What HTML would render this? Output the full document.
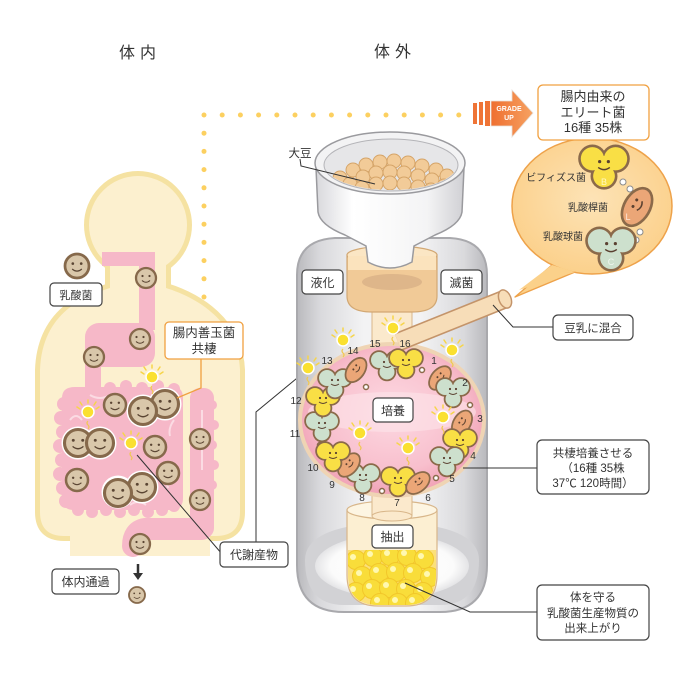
<!DOCTYPE html>
<html><head><meta charset="utf-8">
<style>
html,body{margin:0;padding:0;background:#fff;}
svg{display:block;}
text{font-family:"Liberation Sans","Noto Sans CJK JP",sans-serif;fill:#333;}
</style></head><body>
<svg width="700" height="700" viewBox="0 0 700 700" xmlns="http://www.w3.org/2000/svg">
<defs>
 <linearGradient id="bottle" x1="0" x2="1" y1="0" y2="0">
  <stop offset="0" stop-color="#b9b9bd"/>
  <stop offset="0.12" stop-color="#d9d9dc"/>
  <stop offset="0.35" stop-color="#f3f3f4"/>
  <stop offset="0.65" stop-color="#f3f3f4"/>
  <stop offset="0.88" stop-color="#d9d9dc"/>
  <stop offset="1" stop-color="#b9b9bd"/>
 </linearGradient>
 <linearGradient id="funnel" x1="0" x2="1" y1="0" y2="0">
  <stop offset="0" stop-color="#d8d8dc"/>
  <stop offset="0.25" stop-color="#ffffff"/>
  <stop offset="0.75" stop-color="#f4f4f5"/>
  <stop offset="1" stop-color="#d0d0d4"/>
 </linearGradient>
 <radialGradient id="pink" cx="0.5" cy="0.45" r="0.55">
  <stop offset="0" stop-color="#fdd9e2"/>
  <stop offset="0.7" stop-color="#f8bfcd"/>
  <stop offset="1" stop-color="#f0a1b5"/>
 </radialGradient>
 <radialGradient id="bub" cx="0.5" cy="0.45" r="0.6">
  <stop offset="0" stop-color="#fde3b6"/>
  <stop offset="1" stop-color="#fbcf88"/>
 </radialGradient>
 <radialGradient id="floor" cx="0.5" cy="0.5" r="0.5">
  <stop offset="0" stop-color="#ffffff"/>
  <stop offset="0.8" stop-color="#fbfbfb"/>
  <stop offset="1" stop-color="#e4e4e6"/>
 </radialGradient>
 <linearGradient id="arrow" x1="0" x2="1" y1="0" y2="0">
  <stop offset="0" stop-color="#ef6f30"/>
  <stop offset="1" stop-color="#f6a262"/>
 </linearGradient>
 <g id="face">
  <circle r="10" fill="#d9c7aa" stroke="#86694b" stroke-width="2.3"/>
  <circle cx="-3.5" cy="-2" r="1.1" fill="#5a4533"/>
  <circle cx="3.5" cy="-2" r="1.1" fill="#5a4533"/>
  <path d="M-4,2.5 Q0,6 4,2.5" fill="none" stroke="#5a4533" stroke-width="1"/>
 </g>
 <g id="tref">
  <g fill="#8b6a4a">
   <circle cx="-8" cy="-5" r="9.8"/><circle cx="8" cy="-5" r="9.8"/><circle cx="0" cy="7" r="9.3"/>
  </g>
  <circle cx="-8" cy="-5" r="8"/><circle cx="8" cy="-5" r="8"/><circle cx="0" cy="7" r="7.5"/><circle cx="0" cy="0" r="7"/>
  <circle cx="-3" cy="-3" r="1.1" fill="#5a4030"/><circle cx="3" cy="-3" r="1.1" fill="#5a4030"/>
  <path d="M-4,1 Q0,4 4,1" fill="none" stroke="#5a4030" stroke-width="1"/>
 </g>
 <g id="bean">
  <ellipse rx="14.5" ry="9.5" fill="#8b6a4a"/>
  <ellipse rx="12.7" ry="7.7"/>
  <circle cx="-1" cy="-2.5" r="1" fill="#5a4030"/><circle cx="4" cy="-2.5" r="1" fill="#5a4030"/>
  <path d="M-2,1 Q1.5,3.5 5,1" fill="none" stroke="#5a4030" stroke-width="1"/>
 </g>
 <g id="bulb">
  <g stroke="#f6d54a" stroke-width="1.5" stroke-linecap="round">
   <line x1="-8" y1="-3" x2="-11" y2="-5"/><line x1="-6" y1="-7" x2="-8" y2="-10"/>
   <line x1="0" y1="-9" x2="0" y2="-12"/><line x1="6" y1="-7" x2="8" y2="-10"/>
   <line x1="8" y1="-3" x2="11" y2="-5"/>
  </g>
  <circle r="6" fill="#fae030" stroke="#fff" stroke-width="1.5"/>
  <path d="M0,9 q-2,2 0,4 q2,2 0,4" stroke="#f0c850" fill="none" stroke-width="1.2"/>
 </g>
 <g id="ball">
  <circle r="9.5" fill="#f9dd3a" stroke="#f2c72a" stroke-width="1"/>
  <circle cx="-3" cy="-3" r="3" fill="#fff8b0"/>
 </g>
</defs>

<!-- headers -->
<text x="140" y="58" font-size="16" text-anchor="middle" letter-spacing="5">体内</text>
<text x="395" y="57" font-size="16" text-anchor="middle" letter-spacing="5">体外</text>

<!-- dotted line -->
<g fill="#fcd060">
 <circle cx="204" cy="115" r="2.5"/><circle cx="222.2" cy="115" r="2.5"/><circle cx="240.4" cy="115" r="2.5"/><circle cx="258.6" cy="115" r="2.5"/><circle cx="276.8" cy="115" r="2.5"/><circle cx="295" cy="115" r="2.5"/><circle cx="313.2" cy="115" r="2.5"/><circle cx="331.4" cy="115" r="2.5"/><circle cx="349.6" cy="115" r="2.5"/><circle cx="367.8" cy="115" r="2.5"/><circle cx="386" cy="115" r="2.5"/><circle cx="404.2" cy="115" r="2.5"/><circle cx="422.4" cy="115" r="2.5"/><circle cx="440.6" cy="115" r="2.5"/><circle cx="458.8" cy="115" r="2.5"/>
 <circle cx="204" cy="133.2" r="2.5"/><circle cx="204" cy="151.4" r="2.5"/><circle cx="204" cy="169.6" r="2.5"/><circle cx="204" cy="187.8" r="2.5"/><circle cx="204" cy="206" r="2.5"/><circle cx="204" cy="224.2" r="2.5"/><circle cx="204" cy="242.4" r="2.5"/><circle cx="204" cy="260.6" r="2.5"/><circle cx="204" cy="278.8" r="2.5"/><circle cx="204" cy="297" r="2.5"/><circle cx="204" cy="315.2" r="2.5"/>
</g>

<!-- BODY -->
<g fill="#f5e2a2" stroke="#f5e2a2" stroke-width="10">
 <circle cx="138" cy="225" r="49"/>
 <rect x="110" y="240" width="56" height="52"/>
 <path d="M110,288 C85,296 42,312 40,370 L40,512 Q40,536 64,536 L216,536 Q240,536 240,512 L240,370 C238,322 198,298 166,288 Z"/>
</g>
<g fill="#fcf0cf">
 <circle cx="138" cy="225" r="49"/>
 <rect x="110" y="240" width="56" height="52"/>
 <path d="M110,288 C85,296 42,312 40,370 L40,512 Q40,536 64,536 L216,536 Q240,536 240,512 L240,370 C238,322 198,298 166,288 Z"/>
 <rect x="70" y="500" width="140" height="56"/>
</g>
<!-- digestive tract -->
<g fill="#f6b8c8" stroke="none">
 <path d="M102,252 L155,252 L155,330 L139,330 L139,266 L102,266 Z"/>
 <rect x="85" y="323" width="70" height="44" rx="14"/>
 <rect x="85" y="340" width="16" height="60"/>
 <path d="M62,398 Q62,387 75,387 L173,387 Q183,387 183,398 L183,498 Q183,510 171,510 L74,510 Q62,510 62,498 Z"/>
 <circle cx="64" cy="404" r="7"/><circle cx="61" cy="418" r="7"/><circle cx="63" cy="432" r="7"/><circle cx="60" cy="446" r="7"/><circle cx="62" cy="460" r="7"/><circle cx="60" cy="474" r="7"/><circle cx="63" cy="488" r="7"/><circle cx="66" cy="501" r="7"/>
 <circle cx="78" cy="510" r="6"/><circle cx="92" cy="512" r="6"/><circle cx="106" cy="510" r="6"/><circle cx="120" cy="512" r="6"/><circle cx="134" cy="510" r="6"/><circle cx="148" cy="512" r="6"/><circle cx="162" cy="510" r="6"/><circle cx="174" cy="506" r="6"/>
 <circle cx="110" cy="388" r="6"/><circle cx="126" cy="386" r="6"/><circle cx="142" cy="388" r="6"/><circle cx="158" cy="386" r="6"/><circle cx="174" cy="389" r="6"/>
 <rect x="190" y="388" width="24" height="150" rx="10"/>
 <circle cx="212" cy="405" r="5"/><circle cx="214" cy="425" r="5"/><circle cx="212" cy="445" r="5"/><circle cx="214" cy="465" r="5"/><circle cx="212" cy="485" r="5"/>
</g>
<path d="M202,529 L145,529 Q133,531 133,546" fill="none" stroke="#f6b8c8" stroke-width="22" stroke-linecap="round"/>
<g fill="none" stroke="#fbe0e7" stroke-width="2" opacity="0.85">
 <path d="M70,420 q6,-8 12,0 M174,420 q-6,8 -4,16 M72,470 q8,4 6,14 M172,470 q-8,6 -4,18 M202,410 l0,20 M202,450 l0,20 M90,395 q10,6 20,0 M130,505 q8,-6 16,0"/>
</g>

<!-- faces in body -->
<use href="#face" transform="translate(77,266) scale(1.2)"/>
<use href="#face" transform="translate(146,278)"/>
<use href="#face" transform="translate(140,339)"/>
<use href="#face" transform="translate(94,357)"/>
<use href="#face" transform="translate(115,405) scale(1.1)"/>
<g fill="#fff"><circle cx="143" cy="411" r="16.5"/><circle cx="165" cy="404" r="16.5"/><circle cx="78" cy="443" r="16.5"/><circle cx="100" cy="443" r="16.5"/><circle cx="118" cy="492" r="16.5"/><circle cx="142" cy="487" r="16.5"/></g>
<use href="#face" transform="translate(165,404) scale(1.35)"/>
<use href="#face" transform="translate(143,411) scale(1.35)"/>
<use href="#face" transform="translate(78,443) scale(1.35)"/>
<use href="#face" transform="translate(100,443) scale(1.35)"/>
<use href="#face" transform="translate(155,447) scale(1.1)"/>
<use href="#face" transform="translate(200,439)"/>
<use href="#face" transform="translate(77,480) scale(1.1)"/>
<use href="#face" transform="translate(168,473) scale(1.1)"/>
<use href="#face" transform="translate(142,487) scale(1.35)"/>
<use href="#face" transform="translate(118,493) scale(1.35)"/>
<use href="#face" transform="translate(200,500)"/>
<use href="#face" transform="translate(140,544)"/>
<use href="#face" transform="translate(137,595) scale(0.8)"/>
<use href="#bulb" transform="translate(152,377)"/>
<use href="#bulb" transform="translate(88,412)"/>
<use href="#bulb" transform="translate(131,443)"/>

<!-- body labels -->
<rect x="50" y="283" width="52" height="23" rx="4" fill="#fff" stroke="#444" stroke-width="1.2"/>
<text x="76" y="299" font-size="11" text-anchor="middle">乳酸菌</text>
<path d="M201,359 L201,388 L177,398" fill="none" stroke="#f0a040" stroke-width="1.3"/>
<rect x="165" y="322" width="78" height="37" rx="4" fill="#fff" stroke="#f0a040" stroke-width="1.3"/>
<text x="204" y="337" font-size="12.5" text-anchor="middle">腸内善玉菌</text>
<text x="204" y="353" font-size="12.5" text-anchor="middle">共棲</text>
<path d="M137,455 L222,554" fill="none" stroke="#333" stroke-width="1"/>
<path d="M302,374 L256,412 L256,542" fill="none" stroke="#333" stroke-width="1"/>
<rect x="220" y="542" width="68" height="25" rx="4" fill="#fff" stroke="#444" stroke-width="1.2"/>
<text x="254" y="559" font-size="12" text-anchor="middle">代謝産物</text>
<rect x="52" y="569" width="67" height="25" rx="4" fill="#fff" stroke="#444" stroke-width="1.2"/>
<text x="85.5" y="586" font-size="12" text-anchor="middle">体内通過</text>
<path d="M138,564 L138,574" stroke="#333" stroke-width="2.5"/>
<path d="M133,573 L143,573 L138,580 Z" fill="#333"/>

<!-- BOTTLE -->
<path d="M297,275 Q297,240 335,238 L450,238 Q487,240 487,275 L487,565 Q487,612 440,612 L344,612 Q297,612 297,565 Z" fill="url(#bottle)" stroke="#a9a9ad" stroke-width="2"/>
<path d="M305,560 Q305,525 392,522 Q479,525 479,560 Q479,605 440,605 L344,605 Q305,605 305,560 Z" fill="#d2d2d5"/>
<ellipse cx="392" cy="566" rx="77" ry="32" fill="url(#floor)"/>

<!-- tan cylinder under funnel -->
<rect x="372" y="300" width="40" height="55" fill="#fbe9cc" stroke="#d8b68a" stroke-width="1"/>
<path d="M347,255 L347,296 Q347,312 372,312 L412,312 Q437,312 437,296 L437,255 Z" fill="#f1ca97" stroke="#d2a874" stroke-width="1.2"/>
<ellipse cx="392" cy="255" rx="45" ry="9" fill="#fbe6c4" stroke="#d2a874" stroke-width="1.2"/>
<rect x="348" y="256" width="88" height="14" fill="#fbe3bd"/>
<ellipse cx="392" cy="282" rx="30" ry="8" fill="#deb68a"/>

<!-- funnel -->
<path d="M316,168 L318,212 Q320,225 345,235 L366,246 L368,262 Q390,274 412,262 L414,246 L435,235 Q460,225 462,212 L464,168 Z" fill="url(#funnel)" stroke="#9a9a9e" stroke-width="1.5"/>
<ellipse cx="390" cy="163" rx="75" ry="31" fill="#f3f3f4" stroke="#9a9a9e" stroke-width="1.5"/>
<ellipse cx="391" cy="165" rx="67" ry="26" fill="#e6e6e8" stroke="#b4b4b8" stroke-width="1"/>
<clipPath id="bowl"><ellipse cx="391" cy="165" rx="66" ry="25"/></clipPath>
<g clip-path="url(#bowl)" fill="#f2cb98" stroke="#d5a468" stroke-width="1">
 <circle cx="340" cy="178" r="7"/><circle cx="353" cy="170" r="7"/><circle cx="366" cy="165" r="7"/><circle cx="380" cy="162" r="7"/><circle cx="394" cy="161" r="7"/><circle cx="408" cy="163" r="7"/><circle cx="422" cy="166" r="7"/><circle cx="436" cy="170" r="7"/><circle cx="447" cy="176" r="7"/>
 <circle cx="350" cy="184" r="7"/><circle cx="363" cy="177" r="7"/><circle cx="376" cy="173" r="7"/><circle cx="390" cy="172" r="7"/><circle cx="404" cy="173" r="7"/><circle cx="418" cy="176" r="7"/><circle cx="432" cy="180" r="7"/><circle cx="444" cy="186" r="7"/>
 <circle cx="362" cy="188" r="7"/><circle cx="376" cy="184" r="7"/><circle cx="390" cy="183" r="7"/><circle cx="404" cy="184" r="7"/><circle cx="418" cy="187" r="7"/><circle cx="431" cy="190" r="7"/>
</g>
<path d="M300,159 L301,166 L375,184" fill="none" stroke="#333" stroke-width="1"/>
<text x="300" y="157" font-size="11.5" text-anchor="middle">大豆</text>

<!-- labels on bottle -->
<rect x="302" y="270" width="41" height="24" rx="4" fill="#fff" stroke="#444" stroke-width="1.2"/>
<text x="322.5" y="287" font-size="12" text-anchor="middle">液化</text>
<rect x="441" y="270" width="41" height="24" rx="4" fill="#fff" stroke="#444" stroke-width="1.2"/>
<text x="461.5" y="287" font-size="12" text-anchor="middle">滅菌</text>

<!-- extract cylinder (behind sphere) -->
<path d="M347,510 L347,575 Q347,606 378,606 L406,606 Q437,606 437,575 L437,510 Z" fill="#fcefd2" stroke="#d8b68a" stroke-width="1.2"/>
<ellipse cx="392" cy="510" rx="45" ry="9" fill="#fdf5e2" stroke="#d8b68a" stroke-width="1.2"/>

<!-- culture sphere -->
<rect x="372" y="480" width="40" height="36" fill="#fbe9cc" stroke="#d8b68a" stroke-width="1"/>
<ellipse cx="392" cy="516" rx="20" ry="5" fill="#fbe9cc" stroke="#d8b68a" stroke-width="1"/>
<ellipse cx="392" cy="420" rx="92" ry="76" fill="url(#pink)" stroke="#efd4b4" stroke-width="4"/>
<ellipse cx="392" cy="412" rx="84" ry="20" fill="#fde4ea" opacity="0.6"/>

<!-- pipe -->
<path d="M398,342 L505,299" stroke="#c4946a" stroke-width="19" stroke-linecap="butt" fill="none"/>
<path d="M398,342 L505,299" stroke="#f7ddb8" stroke-width="16" stroke-linecap="butt" fill="none"/>
<ellipse cx="505" cy="299" rx="6" ry="9.5" transform="rotate(-22 505 299)" fill="#f7ddb8" stroke="#c4946a" stroke-width="1.5"/>

<!-- ring beads -->
<g fill="#fff" stroke="#8b6a4a" stroke-width="1.5">
 <circle cx="422" cy="370" r="2.5"/><circle cx="470" cy="405" r="2.5"/><circle cx="436" cy="478" r="2.5"/><circle cx="382" cy="491" r="2.5"/><circle cx="320" cy="445" r="2.5"/><circle cx="366" cy="387" r="2.5"/>
</g>

<!-- ring bacteria -->
<use href="#tref" fill="#cde0cd" transform="translate(387,365)"/>
<use href="#tref" fill="#f9df45" transform="translate(406,363)"/>
<use href="#bean" fill="#eba677" transform="translate(440,378) rotate(-50)"/>
<use href="#tref" fill="#cde0cd" transform="translate(453,392)"/>
<use href="#bean" fill="#eba677" transform="translate(462,423) rotate(-60)"/>
<use href="#tref" fill="#f9df45" transform="translate(460,443)"/>
<use href="#tref" fill="#cde0cd" transform="translate(447,461)"/>
<use href="#tref" fill="#f9df45" transform="translate(398,481)"/>
<use href="#bean" fill="#eba677" transform="translate(418,483) rotate(-40)"/>
<use href="#tref" fill="#cde0cd" transform="translate(363,478)"/>
<use href="#bean" fill="#eba677" transform="translate(349,465) rotate(-50)"/>
<use href="#tref" fill="#f9df45" transform="translate(333,456)"/>
<use href="#tref" fill="#cde0cd" transform="translate(322,426)"/>
<use href="#tref" fill="#f9df45" transform="translate(323,401)"/>
<use href="#tref" fill="#cde0cd" transform="translate(335,383)"/>
<use href="#bean" fill="#eba677" transform="translate(356,370) rotate(-55)"/>

<!-- bulbs -->
<use href="#bulb" transform="translate(343,340)"/>
<use href="#bulb" transform="translate(393,328)"/>
<use href="#bulb" transform="translate(452,350)"/>
<use href="#bulb" transform="translate(308,368)"/>
<use href="#bulb" transform="translate(443,417)"/>
<use href="#bulb" transform="translate(360,433)"/>
<use href="#bulb" transform="translate(408,448)"/>

<!-- numbers -->
<g font-size="10" fill="#555" text-anchor="middle">
 <text x="434" y="364">1</text><text x="465" y="386">2</text><text x="480" y="422">3</text><text x="473" y="459">4</text><text x="452" y="482">5</text><text x="428" y="501">6</text><text x="397" y="506">7</text><text x="362" y="501">8</text><text x="332" y="488">9</text><text x="313" y="471">10</text><text x="295" y="437">11</text><text x="296" y="404">12</text><text x="327" y="364">13</text><text x="353" y="354">14</text><text x="375" y="347">15</text><text x="405" y="347">16</text>
</g>

<rect x="373" y="398" width="40" height="24" rx="4" fill="#fff" stroke="#444" stroke-width="1.2"/>
<text x="393" y="415" font-size="12" text-anchor="middle">培養</text>

<!-- balls in extract cylinder -->
<clipPath id="cyl"><path d="M348,550 L436,550 L436,575 Q436,605 406,605 L378,605 Q348,605 348,575 Z"/></clipPath>
<g clip-path="url(#cyl)">
 <rect x="348" y="550" width="88" height="60" fill="#fbe07a"/>
 <use href="#ball" transform="translate(356,560)"/><use href="#ball" transform="translate(373,557)"/><use href="#ball" transform="translate(390,556)"/><use href="#ball" transform="translate(407,556)"/><use href="#ball" transform="translate(424,559)"/>
 <use href="#ball" transform="translate(362,576)"/><use href="#ball" transform="translate(379,573)"/><use href="#ball" transform="translate(396,572)"/><use href="#ball" transform="translate(413,573)"/><use href="#ball" transform="translate(430,577)"/>
 <use href="#ball" transform="translate(356,592)"/><use href="#ball" transform="translate(372,589)"/><use href="#ball" transform="translate(389,588)"/><use href="#ball" transform="translate(406,589)"/><use href="#ball" transform="translate(423,592)"/>
 <use href="#ball" transform="translate(380,603)"/><use href="#ball" transform="translate(398,603)"/><use href="#ball" transform="translate(415,603)"/>
</g>
<rect x="372" y="525" width="41" height="23" rx="4" fill="#fff" stroke="#444" stroke-width="1.2"/>
<text x="392.5" y="541" font-size="12" text-anchor="middle">抽出</text>

<!-- right connectors & labels -->
<path d="M493,305 L513,327 L553,327" fill="none" stroke="#333" stroke-width="1"/>
<rect x="553" y="315" width="80" height="25" rx="5" fill="#fff" stroke="#444" stroke-width="1.2"/>
<text x="593" y="332" font-size="11.5" text-anchor="middle">豆乳に混合</text>
<path d="M463,468 L537,468" fill="none" stroke="#333" stroke-width="1"/>
<rect x="537" y="440" width="112" height="54" rx="5" fill="#fff" stroke="#444" stroke-width="1.2"/>
<text x="593" y="457" font-size="11.5" text-anchor="middle">共棲培養させる</text>
<text x="593" y="472" font-size="11.5" text-anchor="middle">（16種 35株</text>
<text x="593" y="487" font-size="11.5" text-anchor="middle">37℃ 120時間）</text>
<path d="M405,583 L470,612 L537,612" fill="none" stroke="#333" stroke-width="1"/>
<rect x="537" y="585" width="112" height="55" rx="5" fill="#fff" stroke="#444" stroke-width="1.2"/>
<text x="593" y="601" font-size="11.5" text-anchor="middle">体を守る</text>
<text x="593" y="617" font-size="11.5" text-anchor="middle">乳酸菌生産物質の</text>
<text x="593" y="632" font-size="11.5" text-anchor="middle">出来上がり</text>

<!-- speech bubble -->
<path d="M515,297 L552,265 L575,272 Z" fill="#fbd18a" stroke="#eea24a" stroke-width="1.3" stroke-linejoin="round"/>
<ellipse cx="592" cy="206" rx="80" ry="68" fill="url(#bub)" stroke="#eea24a" stroke-width="1.5"/>
<path d="M519,290 L552,265 L575,272 Z" fill="#fbd18a"/>
<g fill="#fff" stroke="#8b8b8b" stroke-width="1">
 <circle cx="623" cy="182" r="3"/><circle cx="630" cy="189" r="3"/><circle cx="640" cy="232" r="3"/><circle cx="636" cy="240" r="3"/>
</g>
<use href="#tref" fill="#f9df45" transform="translate(604,166) scale(1.45)"/>
<text x="604" y="185" font-size="9" text-anchor="middle" style="fill:#fff9c0">B</text>
<use href="#bean" fill="#eba677" transform="translate(637,207) rotate(-60) scale(1.5)"/>
<text x="628" y="220" font-size="9" text-anchor="middle" style="fill:#fde6d8">L</text>
<use href="#tref" fill="#cde0cd" transform="translate(611,248) scale(1.45)"/>
<text x="611" y="265" font-size="9" text-anchor="middle" style="fill:#eef6ee">C</text>
<g font-size="10" fill="#333" text-anchor="end">
 <text x="586" y="181">ビフィズス菌</text>
 <text x="608" y="211">乳酸桿菌</text>
 <text x="583" y="240">乳酸球菌</text>
</g>
<rect x="538" y="85" width="111" height="55" rx="5" fill="#fff" stroke="#f0a040" stroke-width="1.3"/>
<text x="593" y="101" font-size="13" text-anchor="middle">腸内由来の</text>
<text x="593" y="117" font-size="13" text-anchor="middle">エリート菌</text>
<text x="593" y="132" font-size="13" text-anchor="middle">16種 35株</text>

<!-- GRADE UP arrow -->
<g fill="#ef7436">
 <rect x="473" y="103" width="4" height="21"/><rect x="479" y="102" width="4" height="23"/><rect x="485" y="101" width="5" height="25"/>
</g>
<path d="M491,101 L512,101 L512,90 L533,113 L512,137 L512,126 L491,126 Z" fill="url(#arrow)" stroke="#e8e0d8" stroke-width="0.8"/>
<text x="509" y="111" font-size="7" font-weight="bold" text-anchor="middle" style="fill:#fff">GRADE</text>
<text x="509" y="120" font-size="7" font-weight="bold" text-anchor="middle" style="fill:#fff">UP</text>
</svg>
</body></html>
